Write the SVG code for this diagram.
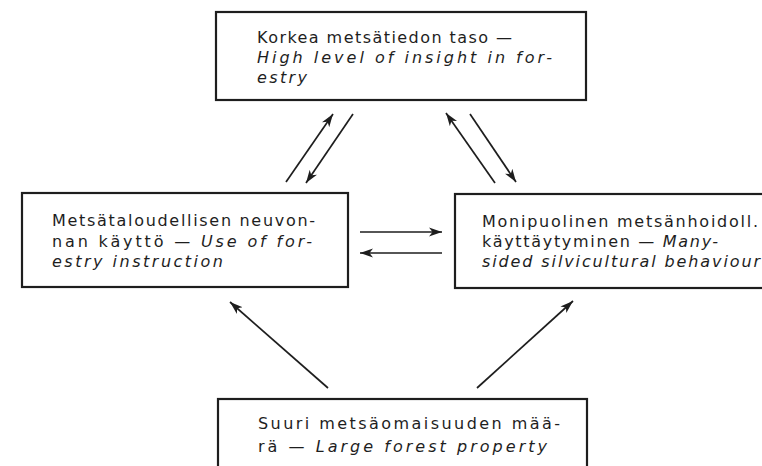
<svg xmlns="http://www.w3.org/2000/svg" width="762" height="466" viewBox="0 0 762 466">
  <style>
    .box { fill: #ffffff; stroke: #1e1e1e; stroke-width: 2.2; }
    .t { font-family: "DejaVu Sans", "Liberation Sans", sans-serif; font-size: 16px; fill: #1e1e1e; }
    .i { font-style: italic; }
    .c { fill: none; stroke: #1e1e1e; stroke-width: 1.7; marker-end: url(#ah); }
  </style>
  <defs>
    <marker id="ah" viewBox="0 0 14 10" refX="13" refY="5" markerWidth="14" markerHeight="10" markerUnits="userSpaceOnUse" orient="auto">
      <path d="M0,0.6 L13,5 L0,9.4 L3.5,5 Z" fill="#1e1e1e"/>
    </marker>
  </defs>
  <rect width="762" height="466" fill="#ffffff"/>

  <g id="connectors">
    <path class="c" d="M286,182 L333,114"/>
    <path class="c" d="M353,114 L306,183"/>
    <path class="c" d="M495,183 L446,113"/>
    <path class="c" d="M470,114 L516,182"/>
    <path class="c" d="M360,232 L442,232"/>
    <path class="c" d="M442,253 L360,253"/>
    <path class="c" d="M328,388 L230,302"/>
    <path class="c" d="M477,388 L573,301"/>
  </g>

  <g id="node-top">
    <rect class="box" x="216" y="12" width="370" height="88"/>
    <text class="t" x="257" y="43" textLength="255" lengthAdjust="spacing">Korkea metsätiedon taso —</text>
    <text class="t i" x="257" y="63" textLength="295" lengthAdjust="spacing">High level of insight in for-</text>
    <text class="t i" x="257" y="83" textLength="50" lengthAdjust="spacing">estry</text>
  </g>

  <g id="node-left">
    <rect class="box" x="22" y="193" width="326" height="94"/>
    <text class="t" x="52" y="226" textLength="263" lengthAdjust="spacing">Metsätaloudellisen neuvon-</text>
    <text class="t" x="52" y="247" textLength="260" lengthAdjust="spacing">nan käyttö — <tspan class="i">Use of for-</tspan></text>
    <text class="t i" x="52" y="267" textLength="171" lengthAdjust="spacing">estry instruction</text>
  </g>

  <g id="node-right">
    <rect class="box" x="455" y="194" width="330" height="94"/>
    <text class="t" x="482" y="227" textLength="276" lengthAdjust="spacing">Monipuolinen metsänhoidoll.</text>
    <text class="t" x="482" y="247" textLength="236" lengthAdjust="spacing">käyttäytyminen — <tspan class="i">Many-</tspan></text>
    <text class="t i" x="482" y="267" textLength="278" lengthAdjust="spacing">sided silvicultural behaviour</text>
  </g>

  <g id="node-bottom">
    <rect class="box" x="218" y="399" width="369" height="80"/>
    <text class="t" x="258" y="429" textLength="302" lengthAdjust="spacing">Suuri metsäomaisuuden mää-</text>
    <text class="t" x="258" y="452" textLength="289" lengthAdjust="spacing">rä — <tspan class="i">Large forest property</tspan></text>
  </g>
</svg>
